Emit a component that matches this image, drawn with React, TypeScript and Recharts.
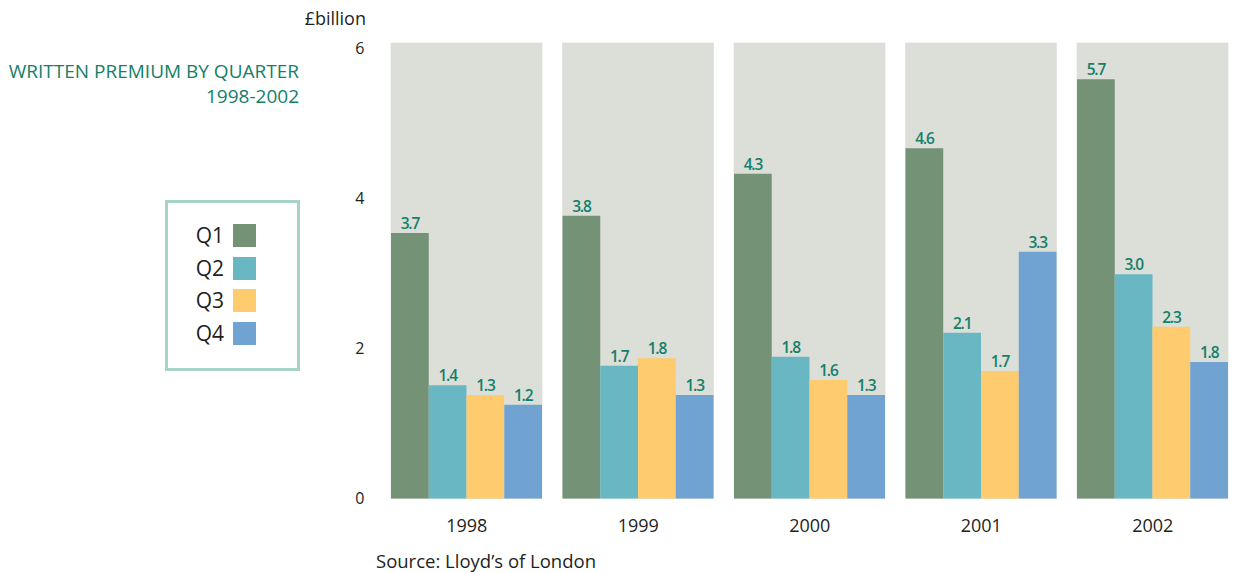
import { Bar, BarChart, LabelList, XAxis, YAxis } from "recharts";

// bar heights as drawn in the source chart (£bn)
const years = ["1998", "1999", "2000", "2001", "2002"];
const q1 = [3.54, 3.77, 4.33, 4.67, 5.59];
const q2 = [1.51, 1.77, 1.89, 2.21, 2.99];
const q3 = [1.38, 1.87, 1.58, 1.7, 2.29];
const q4 = [1.25, 1.38, 1.38, 3.29, 1.82];

// printed value labels
const q1Labels = ["3.7", "3.8", "4.3", "4.6", "5.7"];
const q2Labels = ["1.4", "1.7", "1.8", "2.1", "3.0"];
const q3Labels = ["1.3", "1.8", "1.6", "1.7", "2.3"];
const q4Labels = ["1.2", "1.3", "1.3", "3.3", "1.8"];

const yTicks = [0, 2, 4, 6];

const series = [
  { key: "q1", name: "Q1", color: "#739276" },
  { key: "q2", name: "Q2", color: "#69b7c2" },
  { key: "q3", name: "Q3", color: "#fecb6e" },
  { key: "q4", name: "Q4", color: "#70a3d1" },
];

const data = years.map((year, i) => ({
  year,
  q1: q1[i],
  q2: q2[i],
  q3: q3[i],
  q4: q4[i],
  q1Label: q1Labels[i],
  q2Label: q2Labels[i],
  q3Label: q3Labels[i],
  q4Label: q4Labels[i],
}));

const FONT = '"Open Sans", "Noto Sans", sans-serif';
const TEXT = "#231f20";
const GREEN = "#13806a";
const PANEL = "#dcded8";

export default function App() {
  return (
    <div
      style={{
        position: "relative",
        width: 1235,
        height: 573,
        overflow: "hidden",
        fontFamily: FONT,
        color: TEXT,
      }}
    >
      <style>{`body{margin:0;overflow:hidden}`}</style>

      <div
        style={{
          position: "absolute",
          left: 0,
          width: 299,
          top: 59,
          textAlign: "right",
          fontSize: 19,
          lineHeight: "25px",
          color: GREEN,
        }}
      >
        <div>WRITTEN PREMIUM BY QUARTER</div>
        <div>1998-2002</div>
      </div>

      <div
        style={{
          position: "absolute",
          left: 165,
          top: 200,
          width: 135,
          height: 171,
          boxSizing: "border-box",
          border: "3px solid #a8d3c9",
        }}
      >
        {series.map((s, i) => (
          <div
            key={s.key}
            style={{ position: "absolute", left: 0, top: 21 + i * 32.5, height: 23, width: 130 }}
          >
            <div
              style={{
                position: "absolute",
                right: 74,
                top: -3,
                fontSize: 21,
                lineHeight: "28px",
              }}
            >
              {s.name}
            </div>
            <div
              style={{
                position: "absolute",
                left: 65,
                top: 0,
                width: 23,
                height: 23,
                background: s.color,
              }}
            />
          </div>
        ))}
      </div>

      <div
        style={{
          position: "absolute",
          left: 0,
          width: 366,
          top: 9,
          textAlign: "right",
          fontSize: 18,
          lineHeight: 1,
        }}
      >
        £billion
      </div>

      <div
        style={{
          position: "absolute",
          left: 376,
          top: 552,
          fontSize: 18.5,
          lineHeight: 1,
        }}
      >
        Source: Lloyd’s of London
      </div>

      <div style={{ position: "absolute", left: 0, top: 0 }}>
        <BarChart
          width={1240}
          height={573}
          data={data}
          margin={{ top: 43, right: 1.5, bottom: 44.5, left: 341 }}
          barGap={0}
          barSize={37.75}
        >
          <XAxis
            dataKey="year"
            axisLine={false}
            tickLine={false}
            tickSize={0}
            tickMargin={21}
            height={30}
            tick={{ fill: TEXT, fontSize: 18, fontFamily: FONT }}
          />
          <YAxis
            domain={[0, 6.0733]}
            ticks={yTicks}
            axisLine={false}
            tickLine={false}
            tickSize={0}
            tickMargin={16.5}
            width={40}
            tick={{ fill: TEXT, fontSize: 16, fontFamily: FONT }}
          />
          {series.map((s) => (
            <Bar
              key={s.key}
              dataKey={s.key}
              name={s.name}
              fill={s.color}
              background={{ fill: PANEL, stroke: PANEL, strokeWidth: 0.6 }}
              isAnimationActive={false}
            >
              <LabelList
                dataKey={`${s.key}Label`}
                position="top"
                offset={4}
                fill={GREEN}
                fontSize={15.5}
                fontWeight={600}
                letterSpacing={-1.2}
                fontFamily={FONT}
              />
            </Bar>
          ))}
        </BarChart>
      </div>
    </div>
  );
}
